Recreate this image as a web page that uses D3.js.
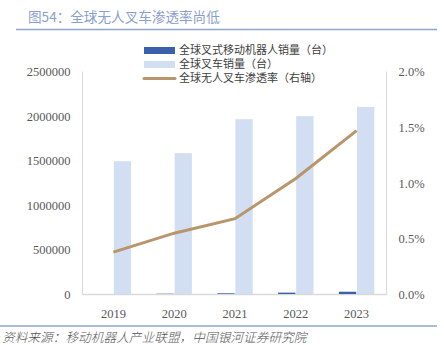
<!DOCTYPE html>
<html>
<head>
<meta charset="utf-8">
<script src="https://cdn.jsdelivr.net/npm/d3@7"></script>
<style>
  body { margin: 0; background: #fff; }
  svg { display: block; }
</style>
</head>
<body>
<svg id="drawspace" width="444" height="345"></svg>
<script>
const years = ["2019", "2020", "2021", "2022", "2023"];
const robotSales = [5700, 8700, 13400, 20800, 30900];
const forkliftSales = [1494000, 1584000, 1965000, 2000000, 2103000];
const penetration = [0.0038, 0.0055, 0.0068, 0.0104, 0.0147];
const leftTicks = [0, 500000, 1000000, 1500000, 2000000, 2500000];
const rightTicks = [0, 0.005, 0.01, 0.015, 0.02];
const seriesNames = ["全球叉式移动机器人销量（台）", "全球叉车销量（台）", "全球无人叉车渗透率（右轴）"];

const svg = d3.select("#drawspace");
const tickFont = "'Liberation Serif', 'Times New Roman', serif";
const cjkFont = "'Noto Sans CJK SC', sans-serif";

// title + rules
svg.append("text")
  .attr("x", 28).attr("y", 22)
  .attr("font-family", cjkFont).attr("font-size", 13.6)
  .attr("fill", "#8a9fcb")
  .text("图54：全球无人叉车渗透率尚低");
svg.append("line")
  .attr("x1", 16).attr("x2", 437).attr("y1", 29.5).attr("y2", 29.5)
  .attr("stroke", "#8fa4cf").attr("stroke-width", 1.5);
svg.append("line")
  .attr("x1", 0).attr("x2", 437).attr("y1", 326).attr("y2", 326)
  .attr("stroke", "#8fa4cf").attr("stroke-width", 1.5);
svg.append("text")
  .attr("x", 2).attr("y", 342)
  .attr("font-family", cjkFont).attr("font-size", 12.7)
  .attr("font-style", "italic").attr("font-weight", 300)
  .attr("fill", "#555")
  .text("资料来源：移动机器人产业联盟，中国银河证券研究院");

const x = d3.scaleBand().domain(years).range([83, 387]);
const yL = d3.scaleLinear().domain([0, 2500000]).range([294.5, 71.5]);
const yR = d3.scaleLinear().domain([0, 0.02]).range([294.5, 71.5]);
const barW = 17.3;

// axis frame
svg.append("line").attr("x1", 82.5).attr("x2", 82.5).attr("y1", 71.5).attr("y2", 294.5)
  .attr("stroke", "#d9d9d9");
svg.append("line").attr("x1", 386.5).attr("x2", 386.5).attr("y1", 71.5).attr("y2", 294.5)
  .attr("stroke", "#d9d9d9");

const axL = svg.append("g").attr("transform", "translate(82.5,0)")
  .call(d3.axisLeft(yL).tickValues(leftTicks).tickSize(0).tickPadding(12).tickFormat(d3.format("d")));
const axR = svg.append("g").attr("transform", "translate(386.5,0)")
  .call(d3.axisRight(yR).tickValues(rightTicks).tickSize(0).tickPadding(12).tickFormat(d3.format(".1%")));
const axB = svg.append("g").attr("transform", "translate(0,294.5)")
  .call(d3.axisBottom(x).tickSize(0).tickPadding(12));
[axL, axR, axB].forEach(g => {
  g.select(".domain").remove();
  g.selectAll("text")
    .attr("font-family", tickFont).attr("font-size", 12.5).attr("fill", "#595959");
});
axB.selectAll("text").attr("dy", "0.9em");
svg.append("line").attr("x1", 82).attr("x2", 387).attr("y1", 294.5).attr("y2", 294.5)
  .attr("stroke", "#d9d9d9").attr("stroke-width", 1.5);

const center = d => x(d) + x.bandwidth() / 2;

// bars
svg.selectAll(".robot").data(years).enter().append("rect")
  .attr("class", "robot")
  .attr("x", d => center(d) - barW - 0.4)
  .attr("width", barW)
  .attr("y", (d, i) => yL(robotSales[i]))
  .attr("height", (d, i) => 294 - yL(robotSales[i]))
  .attr("fill", "#3a60ac");
svg.selectAll(".forklift").data(years).enter().append("rect")
  .attr("class", "forklift")
  .attr("x", d => center(d) + 0.4)
  .attr("width", barW)
  .attr("y", (d, i) => yL(forkliftSales[i]))
  .attr("height", (d, i) => 294 - yL(forkliftSales[i]))
  .attr("fill", "#d2def1");

// penetration line
const line = d3.line().x((d, i) => center(years[i])).y(d => yR(d));
svg.append("path").datum(penetration)
  .attr("d", line)
  .attr("fill", "none")
  .attr("stroke", "#b8956a")
  .attr("stroke-width", 3);

// legend
const legend = svg.append("g").attr("transform", "translate(144,50.5)");
const rowH = 14;
legend.append("rect").attr("x", 0).attr("y", -3.5).attr("width", 31).attr("height", 7).attr("fill", "#3a60ac");
legend.append("rect").attr("x", 0).attr("y", rowH - 3.5).attr("width", 31).attr("height", 7).attr("fill", "#d2def1");
legend.append("line").attr("x1", 0).attr("x2", 31).attr("y1", 2 * rowH).attr("y2", 2 * rowH)
  .attr("stroke", "#b8956a").attr("stroke-width", 3).attr("stroke-linecap", "round");
legend.selectAll("text").data(seriesNames).enter().append("text")
  .attr("x", 35).attr("y", (d, i) => i * rowH)
  .attr("dy", "0.36em")
  .attr("font-family", cjkFont).attr("font-size", 11)
  .attr("fill", "#404040")
  .text(d => d);
</script>
</body>
</html>
